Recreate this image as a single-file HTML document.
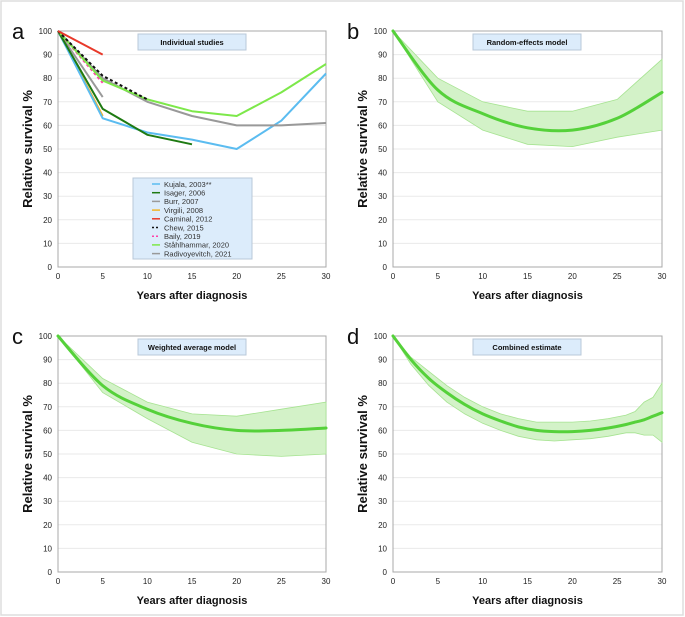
<!DOCTYPE html>
<html><head><meta charset="utf-8">
<style>
html,body{margin:0;padding:0;background:#fff;}
svg{display:block;font-family:"Liberation Sans",sans-serif;}
</style></head>
<body>
<svg id="fig" width="685" height="617" viewBox="0 0 685 617">
<rect x="1" y="1" width="682" height="614" fill="none" stroke="#ddd" stroke-width="1.5"/>
</svg>
<script>
const years = [0,5,10,15,20,25,30];
const yTicks = [0,10,20,30,40,50,60,70,80,90,100];
const xTicks = [0,5,10,15,20,25,30];

// Panel a series
const kujala = [100,63,57,54,50,62,82];
const isager = [100,67,56,52];
const burr = [100,72];
const virgili = [100,64];
const caminal = [100,90];
const chew = [100,81,71];
const baily = [100,78];
const stalhammar = [100,79,71,66,64,74,86];
const radivoyevitch = [100,80,70,64,60,60,61];
const studyNames = ["Kujala, 2003**","Isager, 2006","Burr, 2007","Virgili, 2008","Caminal, 2012","Chew, 2015","Baily, 2019","Ståhlhammar, 2020","Radivoyevitch, 2021"];

// Panel b
const reMean = [100,75,65,59,58,63,74];
const reLow = [100,70,58,52,51,55,58];
const reHigh = [100,80,70,66,66,71,88];
// Panel c
const waMean = [100,79,69,63,60,60,61];
const waLow = [100,76,65,55,50,49,50];
const waHigh = [100,82,72,67,66,69,72];
// Panel d
const ceYears = [0,2,4,6,8,10,12,14,16,18,20,22,24,26,27,28,29,30];
const ceMean = [100,90,82,76,71,67,64,61.5,60,59.5,59.5,60,61,62.5,63.5,64.5,66,67.5];
const ceLow = [100,88,79,72,67,63,60,57.5,56,55.5,56,56.5,57.5,59,59,58,58,55];
const ceHigh = [100,91,85,79,74,70,67,65,63.5,63.5,63.5,64,65,66.5,68,72,74,80];

const NS = "http://www.w3.org/2000/svg";
const svg = document.getElementById('fig');
function mk(tag, attrs, parent, text){
  const e = document.createElementNS(NS, tag);
  for (const k in attrs) e.setAttribute(k, attrs[k]);
  if (text !== undefined) e.textContent = text;
  (parent||svg).appendChild(e);
  return e;
}
function panel(letter, x0, x1, yTop, yBot, title, titleW){
  const g = mk('g', {});
  
  
  const sx = v => x0 + (v/30)*(x1-x0);
  const sy = v => yBot - (v/100)*(yBot-yTop);
  yTicks.forEach(t=>{
    if (t>0 && t<100){
      const l = mk('line',{x1:x0,x2:x1,y1:sy(t),y2:sy(t),stroke:'#eaeaea','stroke-width':1},g);
      
      
    }
    const tx = mk('text',{x:x0-6,y:sy(t)+3,'font-size':8,'text-anchor':'end',fill:'#222'},g,String(t));
    
    
  });
  xTicks.forEach(t=>{
    const tx = mk('text',{x:sx(t),y:yBot+12,'font-size':8,'text-anchor':'middle',fill:'#222'},g,String(t));
    
    
  });
  const fr = mk('rect',{x:x0,y:yTop,width:x1-x0,height:yBot-yTop,fill:'none',stroke:'#a8a8a8','stroke-width':1},g);
  
  
  const xl = mk('text',{x:(x0+x1)/2,y:yBot+32,'font-size':11,'font-weight':'bold','text-anchor':'middle',fill:'#111'},g,'Years after diagnosis');
  
  
  const cy = (yTop+yBot)/2;
  const yl = mk('text',{x:x0-26,y:cy,'font-size':13,'font-weight':'bold','text-anchor':'middle',fill:'#111',transform:`rotate(-90 ${x0-26} ${cy})`},g,'Relative survival %');
  
  
  const pl = mk('text',{x:x0-46,y:yTop+8,'font-size':22,fill:'#111'},g,letter);
  
  
  const tb = mk('rect',{x:x0+80,y:yTop+3,width:titleW,height:16,fill:'#dcecfb',stroke:'#b9c8d8','stroke-width':1},g);
  
  
  const tt = mk('text',{x:x0+80+titleW/2,y:yTop+14,'font-size':7.5,'font-weight':'bold','text-anchor':'middle',fill:'#111'},g,title);
  
  
  return {g,sx,sy};
}
function line(p, xs, ys, color, w, dash, name){
  const d = ys.map((v,i)=>(i?'L':'M')+p.sx(xs[i]).toFixed(1)+','+p.sy(v).toFixed(1)).join(' ');
  const a = {d, fill:'none', stroke:color, 'stroke-width':w, 'stroke-linejoin':'round'};
  if (dash) a['stroke-dasharray']=dash;
  const e = mk('path', a, p.g);
  
  
}
function band(p, xs, lo, hi, name){
  let d = hi.map((v,i)=>(i?'L':'M')+p.sx(xs[i]).toFixed(1)+','+p.sy(v).toFixed(1)).join(' ');
  for (let i=lo.length-1;i>=0;i--) d += ' L'+p.sx(xs[i]).toFixed(1)+','+p.sy(lo[i]).toFixed(1);
  d += ' Z';
  const e = mk('path',{d,fill:'#d3f2c8',stroke:'#a6e391','stroke-width':0.8},p.g);
  
  
}
function smooth(p, xs, ys, name){
  // Catmull-Rom smoothing
  const pts = ys.map((v,i)=>[p.sx(xs[i]),p.sy(v)]);
  let d = 'M'+pts[0][0]+','+pts[0][1];
  for (let i=0;i<pts.length-1;i++){
    const p0=pts[Math.max(0,i-1)],p1=pts[i],p2=pts[i+1],p3=pts[Math.min(pts.length-1,i+2)];
    const c1=[p1[0]+(p2[0]-p0[0])/6,p1[1]+(p2[1]-p0[1])/6];
    const c2=[p2[0]-(p3[0]-p1[0])/6,p2[1]-(p3[1]-p1[1])/6];
    d+=` C${c1[0].toFixed(1)},${c1[1].toFixed(1)} ${c2[0].toFixed(1)},${c2[1].toFixed(1)} ${p2[0].toFixed(1)},${p2[1].toFixed(1)}`;
  }
  const e = mk('path',{d,fill:'none',stroke:'#55d13a','stroke-width':3,'stroke-linecap':'round'},p.g);
  
  
}

// Panel a
const pa = panel('a',58,326,31,267,'Individual studies',108);
const colors = ['#5bbcf0','#1e7a12','#9a9a9a','#f0b429','#e8392a','#111','#ff3fa8','#7de84a','#999'];
const series = [kujala,isager,burr,virgili,caminal,chew,baily,stalhammar,radivoyevitch];
const dashes = [null,null,null,null,null,'3,2.5','3,2.5',null,null];
const order = [3,2,6,0,1,8,7,5,4];
order.forEach(i=>{
  line(pa, years, series[i], colors[i], 2, dashes[i], 'line-' + studyNames[i].split(',')[0].toLowerCase().replace(/[^a-z]/g,''));
});
const lg = mk('g',{},pa.g);


const lb = mk('rect',{x:133,y:178,width:119,height:81,fill:'#dcecfb',stroke:'#b9c8d8','stroke-width':1},lg);


studyNames.forEach((n,i)=>{
  const y = 184+i*8.7;
  const sw = mk('line',{x1:152,x2:160,y1:y,y2:y,stroke:colors[i],'stroke-width':1.5},lg);
  if (dashes[i]) sw.setAttribute('stroke-dasharray','2,2');
  
  
  const t = mk('text',{x:164,y:y+2.8,'font-size':7.5,fill:'#333'},lg,n);
  
  
});

// Panel b
const pb = panel('b',393,662,31,267,'Random-effects model',108);
band(pb, years, reLow, reHigh, 'confidence-band');
smooth(pb, years, reMean, 'estimate-line');

// Panel c
const pc = panel('c',58,326,336,572,'Weighted average model',108);
band(pc, years, waLow, waHigh, 'confidence-band');
smooth(pc, years, waMean, 'estimate-line');

// Panel d
const pd = panel('d',393,662,336,572,'Combined estimate',108);
band(pd, ceYears, ceLow, ceHigh, 'confidence-band');
smooth(pd, ceYears, ceMean, 'estimate-line');
</script>
</body></html>
